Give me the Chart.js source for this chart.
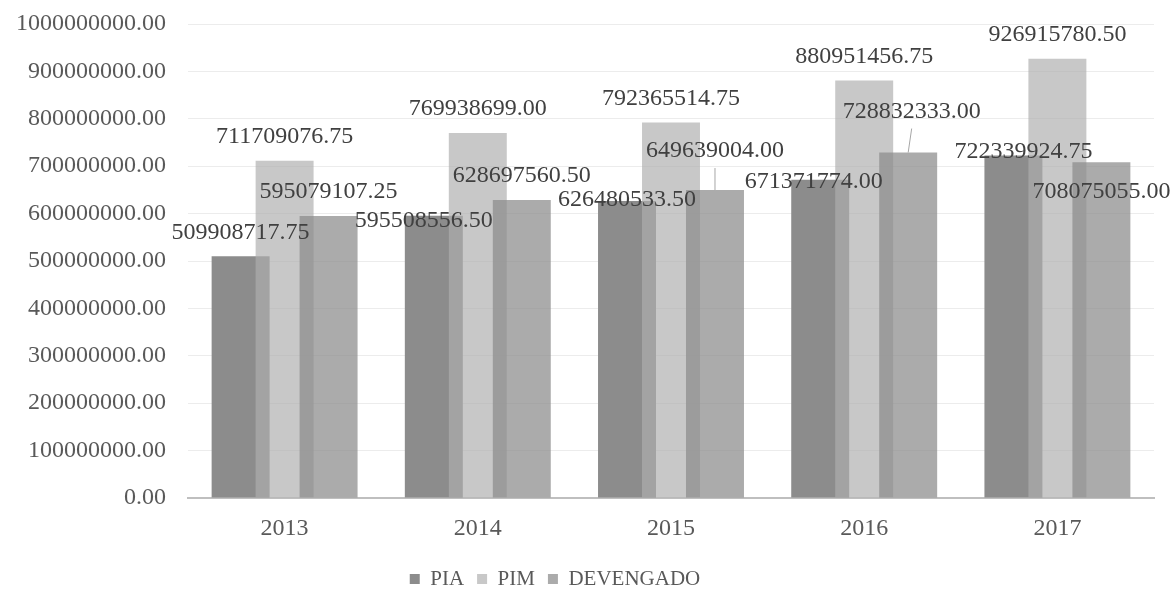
<!DOCTYPE html>
<html><head><meta charset="utf-8">
<script src="https://cdn.jsdelivr.net/npm/chart.js@4"></script>
<style>html,body{margin:0;padding:0;background:#fff}</style>
</head><body>
<canvas id="c" width="1174" height="589"></canvas>
<script>
const categories = ['2013', '2014', '2015', '2016', '2017'];
const seriesNames = ['PIA', 'PIM', 'DEVENGADO'];
const piaValues = [509908717.75, 595508556.50, 626480533.50, 671371774.00, 722339924.75];
const pimValues = [711709076.75, 769938699.00, 792365514.75, 880951456.75, 926915780.50];
const devengadoValues = [595079107.25, 628697560.50, 649639004.00, 728832333.00, 708075055.00];
const yAxisMin = 0;
const yAxisMax = 1000000000;
const yAxisStep = 100000000;

const FONT = '"Liberation Serif", "Times New Roman", serif';
const TEXT = '#595959';
const LABEL_TEXT = '#404040';

// label placement tweaks relative to bar top centre: [dx, dy, leaderLine]
const labelNudges = [
  [[0,-24],[-10,5],[0,-1],[-6.5,2],[10,-4]],
  [[0,-24],[0,-24],[0,-24],[0,-24],[0,-24]],
  [[0,-24],[0,-24],[0,-39,true],[3.5,-41,true],[0,29]]
];

const drawOrderPlugin = {
  id: 'drawOrder',
  beforeDatasetsDraw(chart) {
    const metas = chart.getSortedVisibleDatasetMetas();
    for (const m of metas) m.controller.draw();
    return false;
  }
};

const labelPlugin = {
  id: 'valueLabels',
  afterDraw(chart) {
    const ctx = chart.ctx;
    ctx.save();
    ctx.font = '24px ' + FONT;
    ctx.fillStyle = LABEL_TEXT;
    ctx.textAlign = 'center';
    ctx.textBaseline = 'middle';
    chart.data.datasets.forEach((ds, di) => {
      const meta = chart.getDatasetMeta(di);
      meta.data.forEach((bar, i) => {
        const n = labelNudges[di][i];
        const x = bar.x + n[0], y = bar.y + n[1];
        if (n[2]) {
          ctx.save();
          ctx.strokeStyle = '#a6a6a6';
          ctx.lineWidth = 1;
          ctx.beginPath();
          ctx.moveTo(x, y + 17);
          ctx.lineTo(bar.x, bar.y);
          ctx.stroke();
          ctx.restore();
        }
        ctx.fillText(Number(ds.data[i]).toFixed(2), x, y);
      });
    });
    ctx.restore();
  }
};

const legendPlace = {
  id: 'legendPlace',
  afterLayout(chart) {
    const lg = chart.legend;
    if (!lg) return;
    const w = lg.right - lg.left, h = lg.bottom - lg.top;
    const cx = 555, top = 555.5;
    lg.left = cx - w / 2; lg.right = lg.left + w;
    lg.top = top; lg.bottom = top + h;
  }
};

new Chart(document.getElementById('c'), {
  type: 'bar',
  data: {
    labels: categories,
    datasets: [
      { label: seriesNames[0], data: piaValues, backgroundColor: 'rgb(140,140,140)', borderColor: 'rgba(0,0,0,0)', borderWidth: 0 },
      { label: seriesNames[1], data: pimValues, backgroundColor: 'rgba(174,174,174,0.68)', borderColor: 'rgba(0,0,0,0)', borderWidth: 0 },
      { label: seriesNames[2], data: devengadoValues, backgroundColor: 'rgba(140,140,140,0.73)', borderColor: 'rgba(0,0,0,0)', borderWidth: 0 }
    ]
  },
  options: {
    responsive: false,
    animation: false,
    devicePixelRatio: 1,
    categoryPercentage: 0.683,
    barPercentage: 1.318,
    layout: { padding: { left: 12, right: 20, top: 24, bottom: 0 } },
    plugins: {
      legend: {
        position: 'bottom',
        labels: {
          color: TEXT,
          font: { family: FONT, size: 21 },
          boxWidth: 10,
          boxHeight: 10,
          padding: 13
        }
      },
      tooltip: { enabled: false }
    },
    scales: {
      x: {
        afterFit(s) { s.height = 47; },
        ticks: { color: TEXT, font: { family: FONT, size: 24 }, padding: 16 },
        grid: { display: false, drawTicks: false },
        border: { display: true, color: '#bfbfbf', width: 2 }
      },
      y: {
        min: yAxisMin,
        max: yAxisMax,
        afterFit(s) { s.width = 176; },
        ticks: {
          stepSize: yAxisStep,
          autoSkip: false,
          padding: 0,
          color: TEXT,
          font: { family: FONT, size: 24 },
          callback: v => Number(v).toFixed(2)
        },
        grid: { color: '#ececec', lineWidth: 1, drawTicks: true, tickLength: 22, tickColor: 'rgba(0,0,0,0)' },
        border: { display: false }
      }
    }
  },
  plugins: [drawOrderPlugin, labelPlugin, legendPlace]
});
</script>
</body></html>
